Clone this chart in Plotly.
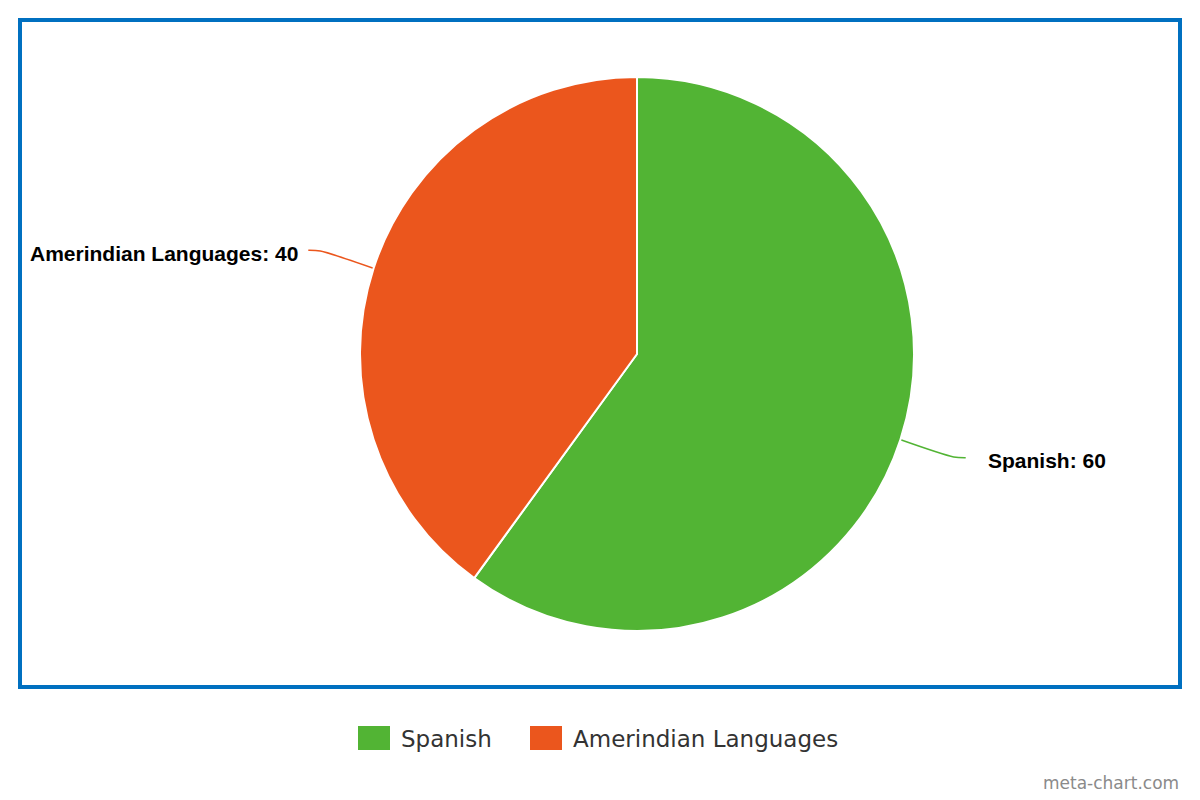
import math
import plotly.graph_objects as go

# ---- data ----
categories = ["Spanish", "Amerindian Languages"]
values = [60, 40]
colors = ["#52B434", "#EB561D"]

W, H = 1200, 800
OFF = 8  # page body margin offset
cx, cy, r = 637, 354, 275
rdom = 277  # plotly shrinks pie slightly inside its domain

fig = go.Figure()

# pie
fig.add_trace(go.Pie(
    labels=categories, values=values, sort=False, direction="clockwise", rotation=0,
    marker=dict(colors=colors, line=dict(color="white", width=2)),
    textinfo="none", hoverinfo="label+value", showlegend=False,
    domain=dict(x=[(cx - OFF - rdom) / W, (cx - OFF + rdom) / W],
                y=[1 - (cy - OFF + rdom) / H, 1 - (cy - OFF - rdom) / H]),
))

# leader lines + labels computed from the data
total = sum(values)
start = 0.0
annotations = []
for cat, val, col in zip(categories, values, colors):
    frac = val / total
    mid = (start + frac / 2) * 2 * math.pi
    start += frac
    ux, uy = math.sin(mid), -math.cos(mid)
    side = 1 if ux >= 0 else -1
    p0 = (cx + r * ux, cy + r * uy)
    p1 = (p0[0] + 58 * ux, p0[1] + 58 * uy)
    p2 = (p1[0] + 12 * side, p1[1] + 1.5 * (1 if uy > 0 else -1) * 0.5)
    fig.add_trace(go.Scatter(
        x=[p0[0], p1[0], p2[0]], y=[p0[1], p1[1], p2[1]], mode="lines",
        line=dict(color=col, width=1.5, shape="spline", smoothing=0.8),
        hoverinfo="skip", showlegend=False,
    ))
    gap = 20 if side > 0 else 8
    annotations.append(dict(
        x=p2[0] + gap * side, y=p2[1] + 3, xref="x", yref="y",
        text=f"<b>{cat}: {val}</b>", showarrow=False,
        xanchor="left" if side > 0 else "right", yanchor="middle",
        font=dict(family="Liberation Sans, Arial, sans-serif", size=21, color="#000000"),
    ))

# custom legend (large swatches)
legend_x = [358, 530]
for cat, col, lx in zip(categories, colors, legend_x):
    fig.add_shape(type="rect", xref="x", yref="y", x0=lx, x1=lx + 32, y0=726, y1=750,
                  fillcolor=col, line=dict(width=0))
    annotations.append(dict(
        x=lx + 41, y=739, xref="x", yref="y", text=cat, showarrow=False,
        xanchor="left", yanchor="middle",
        font=dict(family="DejaVu Sans, sans-serif", size=23, color="#333333"),
    ))

# watermark
annotations.append(dict(
    x=1181, y=783, xref="x", yref="y", text="meta-chart.com", showarrow=False,
    xanchor="right", yanchor="middle",
    font=dict(family="DejaVu Sans, sans-serif", size=17, color="#8a8a8a"),
))

# border
fig.add_shape(type="rect", xref="x", yref="y", x0=20, x1=1180, y0=20, y1=687,
              line=dict(color="#0070C0", width=4), fillcolor="rgba(0,0,0,0)", layer="above")

fig.update_layout(
    width=W, height=H, margin=dict(l=0, r=0, t=0, b=0),
    paper_bgcolor="white", plot_bgcolor="rgba(0,0,0,0)",
    xaxis=dict(range=[OFF, W + OFF], visible=False, fixedrange=True),
    yaxis=dict(range=[H + OFF, OFF], visible=False, fixedrange=True),
    annotations=annotations, showlegend=False,
)

fig.write_html("out.html")
